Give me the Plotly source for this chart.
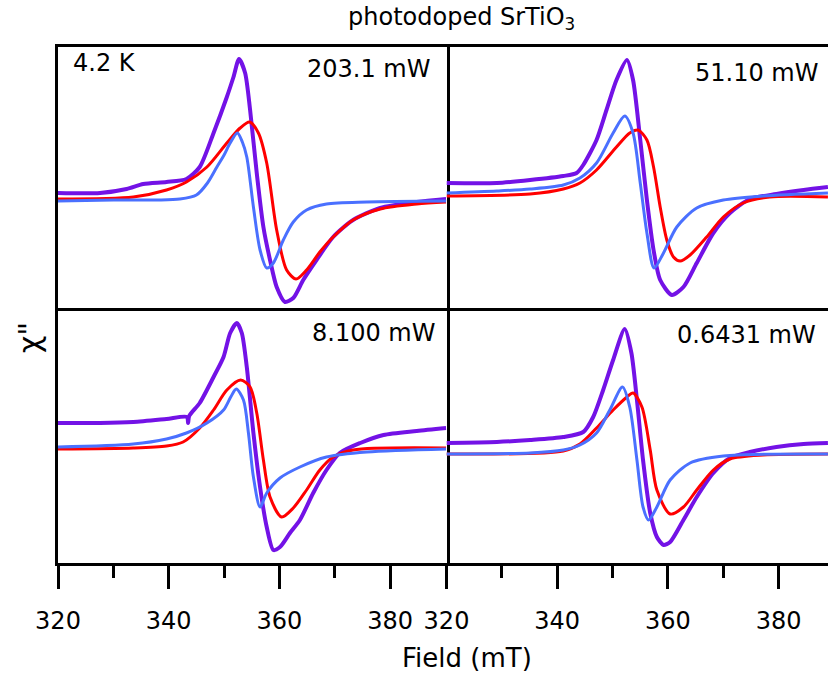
import plotly.graph_objects as go

W, H = 828, 677

# ---- Field axis (mT) and power per panel ----
powers = ["203.1 mW", "51.10 mW", "8.100 mW", "0.6431 mW"]
temperature = "4.2 K"
tick_vals = [320, 340, 360, 380]
minor_vals = [330, 350, 370]

# ---- 203.1 mW ----
b1_data = [320, 327.6, 332.4, 335.4, 339.6, 343.2, 345.6, 348.1, 350.5, 351.7, 352.7, 353.8, 354.7,
           355.9, 357.1, 358.3, 359.5, 361.0, 362.5, 364.3, 366.7, 369.7, 373.3, 378.2, 384.8, 390.1]
y1_data = [0.08, 0.08, 0.12, 0.17, 0.19, 0.22, 0.34, 0.68, 1.04, 1.24, 1.42, 1.28, 0.91,
           0.28, -0.26, -0.59, -0.86, -1.01, -0.97, -0.79, -0.59, -0.36, -0.19, -0.07, -0.01, 0.02]
b1_red = [320, 333.6, 339.6, 343.2, 346.9, 350.5, 352.9, 354.6, 356.2, 357.7, 359.5, 361.3, 363.0,
          364.9, 367.3, 369.7, 373.3, 378.2, 384.8, 390.1]
y1_red = [0.02, 0.04, 0.11, 0.19, 0.34, 0.58, 0.73, 0.79, 0.68, 0.38, -0.29, -0.69, -0.78,
          -0.69, -0.51, -0.36, -0.19, -0.08, -0.03, -0.01]
b1_blue = [320, 330, 338, 342, 345, 347, 348.7, 350, 351.1, 352.4, 353.3, 354.1, 355.3, 356.5,
           357.7, 358.9, 360.7, 362.5, 364.9, 368.5, 375.8, 390.1]
y1_blue = [0.0, 0.01, 0.01, 0.02, 0.06, 0.18, 0.34, 0.46, 0.58, 0.68, 0.59, 0.44, -0.06, -0.49,
           -0.67, -0.62, -0.39, -0.21, -0.09, -0.03, -0.01, 0.0]

# ---- 51.10 mW ----
b2_data = [320, 329.1, 335.1, 341.1, 343.5, 344.7, 347.1, 348.9, 350.7, 352.6, 353.7, 355.0, 356.2,
           357.4, 358.6, 360.7, 362.8, 365.2, 368.2, 371.2, 374.8, 379.6, 384.5, 388.9]
y2_data = [0.10, 0.10, 0.13, 0.17, 0.20, 0.28, 0.53, 0.83, 1.13, 1.33, 1.13, 0.53, -0.07,
           -0.57, -0.87, -1.02, -0.94, -0.70, -0.40, -0.20, -0.06, -0.01, 0.03, 0.06]
b2_red = [320, 335.1, 341.1, 344.1, 347.1, 350.7, 353.1, 354.6, 356.2, 357.4, 358.6, 359.8, 361.0,
          362.2, 364.0, 367.0, 370.0, 373.6, 378.4, 388.9]
y2_red = [-0.03, -0.01, 0.04, 0.10, 0.23, 0.46, 0.60, 0.63, 0.53, 0.26, -0.14, -0.47, -0.64,
          -0.68, -0.62, -0.44, -0.24, -0.10, -0.04, -0.04]
b2_blue = [320, 329.1, 335.1, 341.1, 344.1, 347.1, 350.1, 352.2, 353.7, 355.0, 356.2, 357.5, 359.2,
           361.6, 365.2, 370.0, 377.2, 388.9]
y2_blue = [0.0, 0.02, 0.04, 0.08, 0.15, 0.30, 0.60, 0.77, 0.60, 0.10, -0.40, -0.75, -0.60,
           -0.34, -0.15, -0.07, -0.03, 0.0]

# ---- 8.100 mW ----
b3_data = [320, 327.6, 333.6, 339.6, 343.3, 343.5, 343.7, 345.6, 348.1, 349.9, 351.1, 352.3, 353.2,
           354.1, 355.3, 356.5, 357.7, 358.9, 360.1, 361.9, 363.7, 366.1, 368.5, 370.9, 374.6, 378.8,
           384.8, 390.1]
y3_data = [0.24, 0.24, 0.25, 0.28, 0.30, 0.24, 0.31, 0.44, 0.70, 0.90, 1.14, 1.24, 1.14,
           0.80, 0.14, -0.40, -0.80, -1.03, -1.00, -0.86, -0.73, -0.46, -0.23, -0.06, 0.04, 0.12,
           0.16, 0.19]
b3_red = [320, 333.6, 339.6, 342.6, 345.6, 348.1, 350.5, 353.0, 354.7, 355.9, 357.1, 358.3, 360.4,
          362.5, 364.9, 367.3, 369.7, 373.3, 390.1]
y3_red = [-0.02, -0.01, 0.01, 0.05, 0.19, 0.37, 0.57, 0.67, 0.60, 0.34, -0.13, -0.50, -0.70,
          -0.61, -0.43, -0.23, -0.10, -0.03, -0.01]
b3_blue = [320, 333.6, 339.6, 343.2, 346.9, 349.9, 351.2, 352.2, 353.5, 354.4, 355.3, 356.5, 357.7,
           360.1, 363.7, 368.5, 375.8, 390.1]
y3_blue = [0.0, 0.03, 0.08, 0.14, 0.24, 0.37, 0.50, 0.58, 0.47, 0.14, -0.30, -0.60, -0.46,
           -0.31, -0.20, -0.10, -0.05, -0.02]

# ---- 0.6431 mW ----
b4_data = [320, 329.1, 335.1, 341.1, 344.7, 346.5, 348.3, 350.1, 352.2, 353.4, 354.4, 355.5, 356.8,
           358.0, 359.2, 360.4, 362.8, 365.2, 368.2, 371.2, 374.8, 379.6, 384.5, 388.9]
y4_data = [0.11, 0.12, 0.14, 0.17, 0.22, 0.37, 0.64, 0.94, 1.25, 1.01, 0.54, -0.06, -0.59,
           -0.83, -0.91, -0.88, -0.66, -0.43, -0.19, -0.04, 0.02, 0.07, 0.10, 0.11]
b4_red = [320, 341.1, 344.1, 347.1, 350.1, 352.6, 353.7, 355.3, 356.8, 358.0, 360.4, 362.8, 365.2,
          368.2, 371.2, 377.2, 388.9]
y4_red = [0.0, 0.03, 0.10, 0.26, 0.44, 0.57, 0.61, 0.47, 0.04, -0.36, -0.60, -0.53, -0.36,
          -0.16, -0.05, -0.01, 0.0]
b4_blue = [320, 335.1, 341.1, 344.1, 347.1, 349.5, 351.8, 353.1, 354.4, 355.5, 356.5, 358.0, 360.4,
           364.0, 370.0, 388.9]
y4_blue = [0.0, 0.01, 0.04, 0.09, 0.21, 0.44, 0.67, 0.47, -0.06, -0.53, -0.66, -0.53, -0.26,
           -0.09, -0.02, 0.0]

panels = [
    (b1_data, y1_data, b1_red, y1_red, b1_blue, y1_blue),
    (b2_data, y2_data, b2_red, y2_red, b2_blue, y2_blue),
    (b3_data, y3_data, b3_red, y3_red, b3_blue, y3_blue),
    (b4_data, y4_data, b4_red, y4_red, b4_blue, y4_blue),
]
y_ranges = [[-1.07, 1.54], [-1.15, 1.46], [-1.16, 1.39], [-1.09, 1.46]]

PURPLE = "#7312e6"
RED = "#ff0000"
BLUE = "#4a70ff"
FONT = "DejaVu Sans"


def px_x(v):
    return v / W


def px_y(v):
    return (H - v) / H


left_x, mid_x = 58, 446.5
top_y, mid_y, bot_y = 47, 308, 563
x_dom = [[px_x(left_x), px_x(mid_x)], [px_x(mid_x), 1.0]]
y_dom = [[px_y(mid_y), px_y(top_y)], [px_y(bot_y), px_y(mid_y)]]
x_ranges = [[320, 320 + (mid_x - left_x) / 5.536], [320, 320 + (W - mid_x) / 5.536]]

fig = go.Figure()

for i, (bd, yd, br, yr, bb, yb) in enumerate(panels):
    xa = "x" if i == 0 else f"x{i + 1}"
    ya = "y" if i == 0 else f"y{i + 1}"
    fig.add_trace(go.Scatter(x=bd, y=yd, mode="lines", xaxis=xa, yaxis=ya,
                             line=dict(color=PURPLE, width=4, shape="spline", smoothing=0.7),
                             showlegend=False, hoverinfo="skip"))
    fig.add_trace(go.Scatter(x=br, y=yr, mode="lines", xaxis=xa, yaxis=ya,
                             line=dict(color=RED, width=3, shape="spline", smoothing=0.8),
                             showlegend=False, hoverinfo="skip"))
    fig.add_trace(go.Scatter(x=bb, y=yb, mode="lines", xaxis=xa, yaxis=ya,
                             line=dict(color=BLUE, width=3, shape="spline", smoothing=0.8),
                             showlegend=False, hoverinfo="skip"))

layout = dict(
    width=W, height=H,
    margin=dict(l=0, r=0, t=0, b=0, pad=0, autoexpand=False),
    paper_bgcolor="white", plot_bgcolor="white",
    font=dict(family=FONT, color="black"),
    showlegend=False,
)

# Frame: each shared edge is drawn by one axis only, so dividers stay 3 px wide
for i in range(4):
    col, row = i % 2, i // 2
    key = "" if i == 0 else str(i + 1)
    bottom = row == 1
    xa = dict(
        domain=x_dom[col], range=x_ranges[col], anchor="y" + key, automargin=False,
        showline=True, mirror=not bottom, linecolor="black", linewidth=3,
        showgrid=False, zeroline=False, fixedrange=True,
    )
    if bottom:
        xa.update(
            tickmode="array", tickvals=tick_vals, ticktext=[str(v) for v in tick_vals],
            ticks="outside", ticklen=23, tickwidth=3, tickcolor="black",
            tickfont=dict(size=24, family=FONT), ticklabelstandoff=11,
            minor=dict(tickmode="array", tickvals=minor_vals, ticks="outside",
                       ticklen=12, tickwidth=3, tickcolor="black"),
        )
    else:
        xa.update(showticklabels=False, ticks="")
    ya = dict(
        domain=y_dom[row], range=y_ranges[i], anchor="x" + key, automargin=False,
        showline=(col == 0), mirror=(col == 0), linecolor="black", linewidth=3,
        showgrid=False, zeroline=False, showticklabels=False, ticks="", fixedrange=True,
    )
    layout["xaxis" + key] = xa
    layout["yaxis" + key] = ya

annotations = [
    dict(text="photodoped SrTiO<sub>3</sub>", x=px_x(461), y=px_y(19), xref="paper", yref="paper",
         showarrow=False, xanchor="center", yanchor="middle", font=dict(size=24)),
    dict(text="Field (mT)", x=px_x(467.5), y=px_y(658), xref="paper", yref="paper",
         showarrow=False, xanchor="center", yanchor="middle", font=dict(size=26)),
    dict(text='χ"', x=px_x(30), y=px_y(338), xref="paper", yref="paper", textangle=-90,
         showarrow=False, xanchor="center", yanchor="middle", font=dict(size=30)),
    dict(text=temperature, x=px_x(71), y=px_y(63), xref="paper", yref="paper",
         showarrow=False, xanchor="left", yanchor="middle", font=dict(size=24)),
]
label_pos = [(432, 69), (820, 73), (437, 333), (818, 335)]
for p, (lx, ly) in zip(powers, label_pos):
    annotations.append(dict(text=p, x=px_x(lx), y=px_y(ly), xref="paper", yref="paper",
                            showarrow=False, xanchor="right", yanchor="middle",
                            font=dict(size=24)))
layout["annotations"] = annotations

fig.update_layout(**layout)
fig.write_html("out.html")
